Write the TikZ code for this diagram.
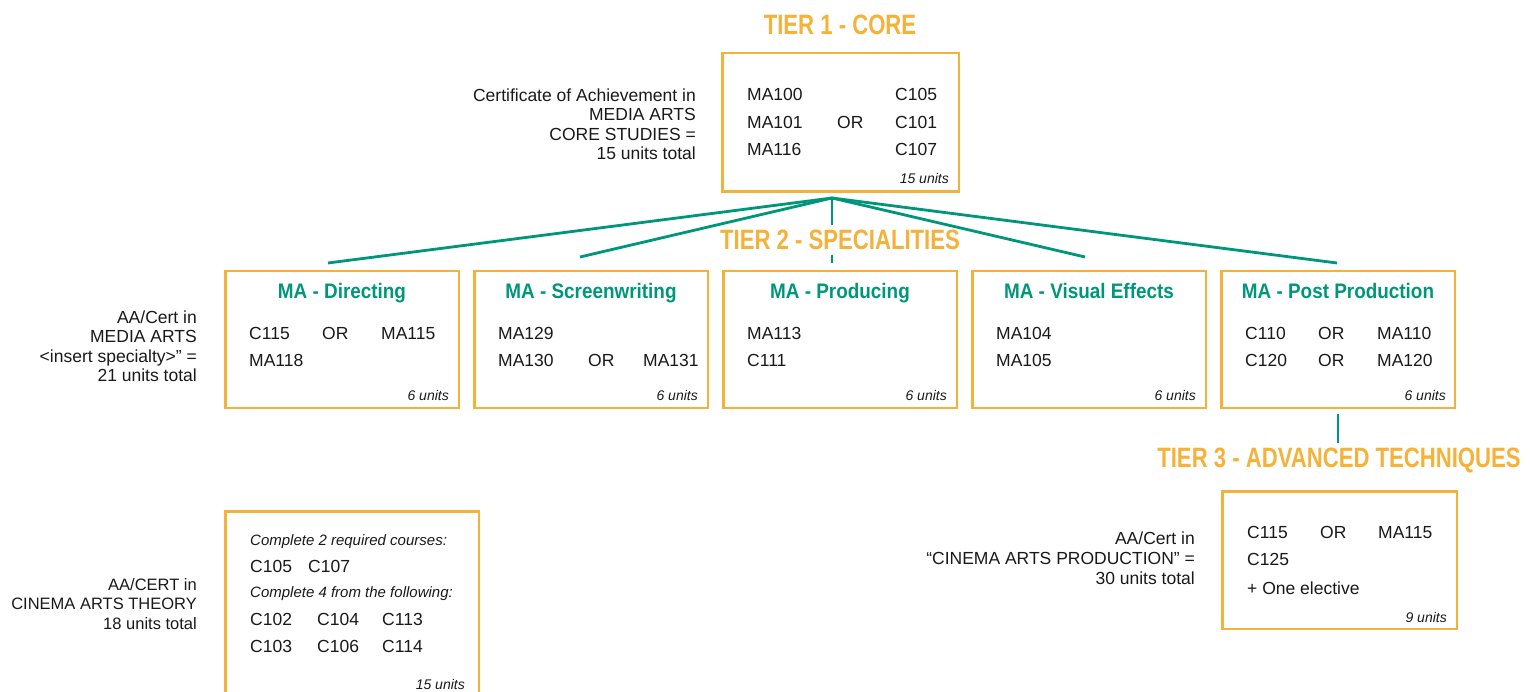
\documentclass[tikz,border=0pt]{standalone}
\usepackage{fontspec}
\setmainfont{Liberation Sans}
\newfontfamily\tierfont{Liberation Sans}[FakeStretch=0.79]
\newfontfamily\specfont{Liberation Sans}[FakeStretch=0.9]
\usetikzlibrary{positioning}
\definecolor{tierorange}{HTML}{F5B23B}
\definecolor{tiergreen}{HTML}{00967A}

\begin{document}
\begin{tikzpicture}[x=1pt,y=-1pt,
  box/.style={draw=tierorange,line width=2.5pt,inner sep=0pt},
  spec box/.style={box,minimum width=233.5pt,minimum height=136.5pt},
  tier/.style={inner sep=0pt,text=tierorange,font=\tierfont\bfseries\fontsize{28}{32}\selectfont},
  spec/.style={anchor=base,inner sep=0pt,text=tiergreen,font=\specfont\bfseries\fontsize{21}{24}\selectfont},
  course/.style={anchor=base west,inner sep=0pt,text=black!90,font=\fontsize{17.5}{19.5}\selectfont},
  note/.style={course,font=\fontsize{15}{18}\selectfont\itshape},
  units/.style={anchor=base east,inner sep=0pt,text=black!90,font=\fontsize{14}{17}\selectfont\itshape},
  label/.style={anchor=east,align=right,inner sep=0pt,text=black!90,font=\fontsize{17.5}{19.5}\selectfont},
  link/.style={draw=tiergreen,line width=2.8pt}]
  \useasboundingbox (0,0) rectangle (1530,692);

  % tier 1
  \node[tier] (tier_1) at (840,25) {TIER 1 - CORE};
  \node[box,minimum width=236.5pt,minimum height=138.5pt] (core) at (840.5,122.5) {};
  \node[label] (core_lbl) at (696,124) {Certificate of Achievement in\\MEDIA ARTS\\CORE STUDIES =\\15 units total};
  \node[course] at (747,101) {MA100};
  \node[course] at (747,129) {MA101};
  \node[course] at (747,156) {MA116};
  \node[course] at (837,129) {OR};
  \node[course] at (895,101) {C105};
  \node[course] at (895,129) {C101};
  \node[course] at (895,156) {C107};
  \node[units] at (949,184) {15 units};

  % tier 2
  \node[tier] (tier_2) at (840,240) {TIER 2 - SPECIALITIES};
  \node[spec box] (spec_1) at (342,339.5) {};
  \node[spec box] (spec_2) [right=13pt of spec_1] {};
  \node[spec box] (spec_3) [right=13pt of spec_2] {};
  \node[spec box] (spec_4) [right=13pt of spec_3] {};
  \node[spec box] (spec_5) [right=13pt of spec_4] {};
  \node[label] (spec_lbl) at (197,346) {AA/Cert in\\MEDIA ARTS\\<insert specialty>” =\\21 units total};

  \node[spec] at (spec_1.center |- 0,298.5) {MA - Directing};
  \node[course] at (249,339) {C115};
  \node[course] at (322,339) {OR};
  \node[course] at (381,339) {MA115};
  \node[course] at (249,366) {MA118};
  \node[units] at (449,400) {6 units};

  \node[spec] at (spec_2.center |- 0,298.5) {MA - Screenwriting};
  \node[course] at (498,339) {MA129};
  \node[course] at (498,366) {MA130};
  \node[course] at (588,366) {OR};
  \node[course] at (643,366) {MA131};
  \node[units] at (698,400) {6 units};

  \node[spec] at (spec_3.center |- 0,298.5) {MA - Producing};
  \node[course] at (747,339) {MA113};
  \node[course] at (747,366) {C111};
  \node[units] at (947,400) {6 units};

  \node[spec] at (spec_4.center |- 0,298.5) {MA - Visual Effects};
  \node[course] at (996,339) {MA104};
  \node[course] at (996,366) {MA105};
  \node[units] at (1196,400) {6 units};

  \node[spec] at (spec_5.center |- 0,298.5) {MA - Post Production};
  \node[course] at (1245,339) {C110};
  \node[course] at (1318,339) {OR};
  \node[course] at (1377,339) {MA110};
  \node[course] at (1245,366) {C120};
  \node[course] at (1318,366) {OR};
  \node[course] at (1377,366) {MA120};
  \node[units] at (1446,400) {6 units};

  % tier 3
  \node[tier] (tier_3) at (1339,460) {TIER 3 - ADVANCED TECHNIQUES};
  \node[box,minimum width=234.5pt,minimum height=137.5pt] (adv) at (1339.5,560) {};
  \node[label,font=\fontsize{17.5}{20}\selectfont] (adv_lbl) at (1195,558) {AA/Cert in\\“CINEMA ARTS PRODUCTION” =\\30 units total};
  \node[course] at (1247,538) {C115};
  \node[course] at (1320,538) {OR};
  \node[course] at (1378,538) {MA115};
  \node[course] at (1247,565) {C125};
  \node[course] at (1247,594) {+ One elective};
  \node[units] at (1447,622) {9 units};

  % cinema arts theory
  \node[box,minimum width=253.5pt,minimum height=189.5pt] (theory) at (352,606) {};
  \node[label,font=\fontsize{16.5}{19.5}\selectfont] (theory_lbl) at (197,604) {AA/CERT in\\CINEMA ARTS THEORY\hspace*{5pt}\\18 units total};
  \node[note] at (250,545.5) {Complete 2 required courses:};
  \node[course] at (250,572) {C105};
  \node[course] at (308,572) {C107};
  \node[note] at (250,597.5) {Complete 4 from the following:};
  \node[course] at (250,625) {C102};
  \node[course] at (317,625) {C104};
  \node[course] at (382,625) {C113};
  \node[course] at (250,652) {C103};
  \node[course] at (317,652) {C106};
  \node[course] at (382,652) {C114};
  \node[units] at (465,689) {15 units};

  % connectors
  \coordinate (top) at (832,198);
  \coordinate (j_1) at (328,263);
  \coordinate (j_2) at (580,257);
  \coordinate (j_3a) at (832,225);
  \coordinate (j_3b) at (832,255);
  \coordinate (j_3c) at (832,263);
  \coordinate (j_4) at (1085,257);
  \coordinate (j_5) at (1337,263);
  \coordinate (t3_a) at (1338,414);
  \coordinate (t3_b) at (1338,443);
  \draw[link] (top) -- (j_1);
  \draw[link] (top) -- (j_2);
  \draw[link] (top) -- (j_3a);
  \draw[link] (j_3b) -- (j_3c);
  \draw[link] (top) -- (j_4);
  \draw[link] (top) -- (j_5);
  \draw[link] (t3_a) -- (t3_b);
\end{tikzpicture}
\end{document}
